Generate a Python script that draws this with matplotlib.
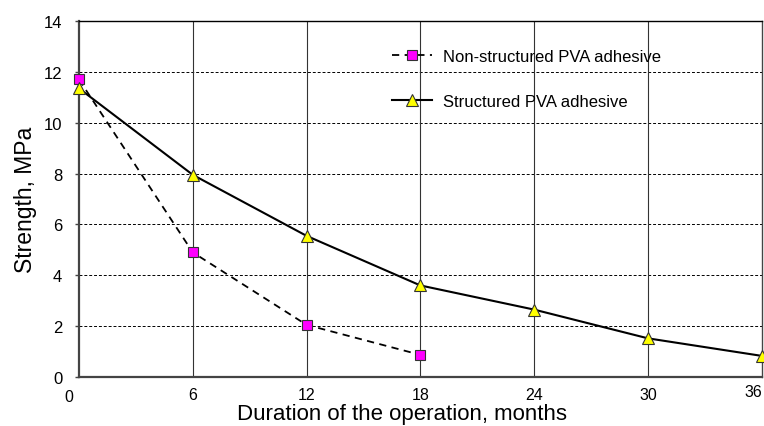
import matplotlib.pyplot as plt
from matplotlib.transforms import ScaledTranslation

plt.rcParams['font.family'] = ['Liberation Sans', 'DejaVu Sans']

months_ns = [0, 6, 12, 18]
strength_ns = [11.7, 4.9, 2.05, 0.87]
months_s = [0, 6, 12, 18, 24, 30, 36]
strength_s = [11.35, 7.95, 5.55, 3.6, 2.65, 1.52, 0.83]
x_ticks = [0, 6, 12, 18, 24, 30, 36]
y_ticks = [0, 2, 4, 6, 8, 10, 12, 14]

fig = plt.figure(figsize=(7.64, 4.27), dpi=100)
ax = fig.add_axes([0.1034, 0.1148, 0.8936, 0.8337])

ax.plot(months_ns, strength_ns, color='black', ls=(0, (4, 3)), lw=1.3,
        marker='s', ms=7, mfc='#ff00ff', mec='#333333', mew=0.8,
        label='Non-structured PVA adhesive', zorder=3, clip_on=False)
ax.plot(months_s, strength_s, color='black', lw=1.5,
        marker='^', ms=8, mfc='#ffff00', mec='#333333', mew=0.8,
        label='Structured PVA adhesive', zorder=3, clip_on=False)

ax.set_xlim(0, 36)
ax.set_ylim(0, 14)
ax.set_xticks(x_ticks)
ax.set_yticks(y_ticks)
ax.tick_params(axis='x', length=0, labelsize=11.5, pad=7)
ax.tick_params(axis='y', length=3, width=1, color='#444444', labelsize=12, pad=9)

# excel-style shifted end labels
xlabels = ax.get_xticklabels()
xlabels[0].set_transform(xlabels[0].get_transform() +
                         ScaledTranslation(-10 / 100, -2 / 100, fig.dpi_scale_trans))
xlabels[-1].set_transform(xlabels[-1].get_transform() +
                          ScaledTranslation(-8 / 100, 3 / 100, fig.dpi_scale_trans))

for y in y_ticks[1:-1]:
    ax.axhline(y, color='black', ls=(0, (3, 2)), lw=0.7, zorder=1)
for x in x_ticks[1:-1]:
    ax.axvline(x, color='#333333', lw=0.8, zorder=1)

for s in ['left', 'bottom']:
    ax.spines[s].set_color('#444444')
    ax.spines[s].set_linewidth(1.6)
ax.spines['top'].set_linewidth(1.0)
ax.spines['right'].set_color('#444444')
ax.spines['right'].set_linewidth(1.0)

ax.set_xlabel('Duration of the operation, months', fontsize=16)
ax.xaxis.set_label_coords(0.473, -0.074)
ax.set_ylabel('Strength, MPa', fontsize=16.5)
ax.yaxis.set_label_coords(-0.061, 0.5)

ax.legend(loc='upper left', bbox_to_anchor=(0.436, 0.963), frameon=False,
          fontsize=12, labelspacing=1.8, handlelength=2.4, handletextpad=0.66)

fig.savefig('out.png', dpi=100)
